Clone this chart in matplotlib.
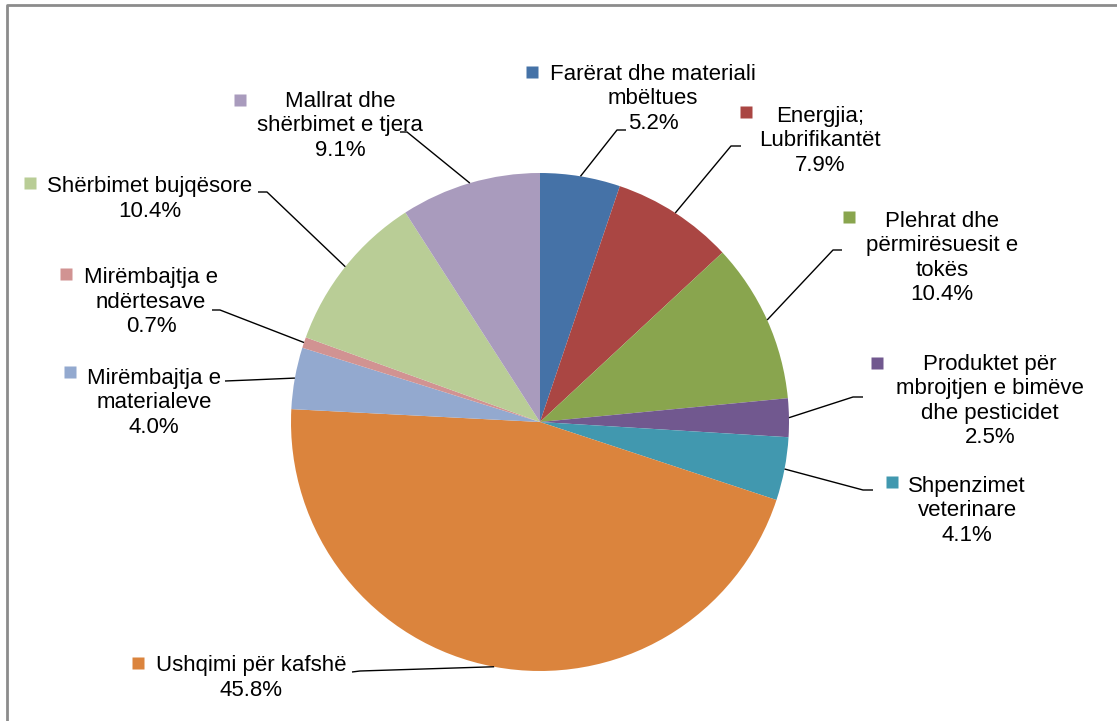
import numpy as np
import matplotlib.pyplot as plt

W, H = 1117, 721

labels = [
    "Farërat dhe materiali\nmbëltues",
    "Energjia;\nLubrifikantët",
    "Plehrat dhe\npërmirësuesit e\ntokës",
    "Produktet për\nmbrojtjen e bimëve\ndhe pesticidet",
    "Shpenzimet\nveterinare",
    "Ushqimi për kafshë",
    "Mirëmbajtja e\nmaterialeve",
    "Mirëmbajtja e\nndërtesave",
    "Shërbimet bujqësore",
    "Mallrat dhe\nshërbimet e tjera",
]
shares = [5.2, 7.9, 10.4, 2.5, 4.1, 45.8, 4.0, 0.7, 10.4, 9.1]
colors = ["#4572A7", "#AA4643", "#89A54E", "#71588F", "#4198AF",
          "#DB843D", "#93A9CF", "#D19392", "#B9CD96", "#A99BBD"]

# label layout in screen pixels (from top-left): text block centre, legend key
text_pos = [(653, 99), (820, 141), (942, 258), (990, 401), (967, 511),
            (251, 678), (154, 403), (151, 302), (150, 199), (340, 126)]
key_pos = [(532, 72), (746, 112), (849, 217), (877, 363), (892, 482),
           (138, 663), (70, 372), (66, 274), (30, 183), (240, 100)]
# leader line: elbow point, then end next to the text
leaders = [[(617, 130), (626, 130)], [(731, 146), (741, 146)],
           [(833, 250), (842, 250)], [(853, 397), (863, 397)],
           [(863, 490), (873, 490)], [(360, 671), (352, 672)],
           [(250, 380), (225, 381)], [(220, 310), (212, 310)],
           [(267, 192), (258, 192)], [(407, 132), (400, 132)]]

cx, cy, r = 540, 422, 249


def px(x, y):
    """Convert screen pixels (y down) into axes data units (y up)"""
    return x, H - y


fig = plt.figure(figsize=(W / 100, H / 100), dpi=100)
ax = fig.add_axes([0, 0, 1, 1])

wedges, _ = ax.pie(shares, colors=colors, startangle=90, counterclock=False,
                   center=px(cx, cy), radius=r,
                   wedgeprops=dict(linewidth=0))
ax.set_xlim(0, W)
ax.set_ylim(0, H)
ax.axis("off")

for w, lab, share, c, tp, kp, ld in zip(wedges, labels, shares, colors,
                                         text_pos, key_pos, leaders):
    mid = np.deg2rad((w.theta1 + w.theta2) / 2)
    edge = (cx + r * np.cos(mid), H - cy + r * np.sin(mid))
    xs = [edge[0]] + [p[0] for p in ld]
    ys = [edge[1]] + [H - p[1] for p in ld]
    ax.plot(xs, ys, color="black", lw=1.0, solid_capstyle="butt")
    ax.text(*px(*tp), f"{lab}\n{share:.1f}%", ha="center", va="center",
            multialignment="center", fontsize=16, family="Liberation Sans",
            linespacing=1.21, color="black")
    ax.plot(*px(*kp), marker="s", ms=8, color=c, mec="none", ls="none")

# chart area border (only left and top edges are visible)
ax.plot([7, 7, W + 5], [-5, H - 5, H - 5], color="#8c8c8c", lw=2,
        clip_on=False)

plt.savefig("out.png", dpi=100)
